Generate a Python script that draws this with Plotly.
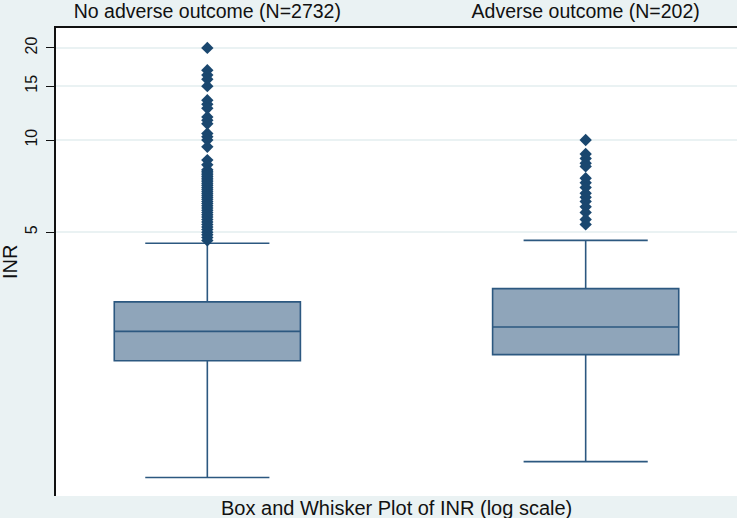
import plotly.graph_objects as go

# ---- data ----
groups = ["No adverse outcome (N=2732)", "Adverse outcome (N=202)"]
lower_whisker = [0.79, 0.89]
q1_vals = [1.90, 1.99]
median_vals = [2.37, 2.45]
q3_vals = [2.96, 3.27]
upper_whisker = [4.6, 4.7]

outliers_no_adverse = [20.0, 16.9, 16.3, 15.8, 15.0, 13.5, 13.1, 12.7, 11.9, 11.6, 11.3,
                       10.5, 10.25, 10.0, 9.5, 8.6, 8.3,
                       8.0, 7.9, 7.8, 7.7, 7.6, 7.5, 7.4, 7.3, 7.2, 7.1, 7.0, 6.9, 6.8,
                       6.7, 6.6, 6.5, 6.4, 6.3, 6.2, 6.1, 6.0, 5.9, 5.8, 5.7, 5.6, 5.5,
                       5.4, 5.3, 5.2, 5.1, 5.0, 4.9, 4.8, 4.7]
outliers_adverse = [10.0, 9.0, 8.7, 8.4, 8.2, 7.5, 7.25, 7.0, 6.7, 6.5, 6.3, 6.05,
                    5.8, 5.5, 5.3]

y_ticks = [5, 10, 15, 20]
y_tick_labels = ["5", "10", "15", "20"]

navy = "#1a476f"
line_col = "#2c5880"
fill_col = "#8fa5ba"
bg = "#eaf2f3"

fig = go.Figure()
fig.add_trace(go.Box(
    x=groups,
    q1=q1_vals, median=median_vals, q3=q3_vals,
    lowerfence=lower_whisker, upperfence=upper_whisker,
    boxpoints=False,
    fillcolor=fill_col,
    line=dict(color=line_col, width=1.6),
    width=0.492,
    whiskerwidth=0.667,
    showlegend=False,
    hoverinfo="skip",
))
fig.add_trace(go.Scatter(
    x=[groups[0]] * len(outliers_no_adverse) + [groups[1]] * len(outliers_adverse),
    y=outliers_no_adverse + outliers_adverse,
    mode="markers",
    marker=dict(symbol="diamond", size=9.5, color=navy, line=dict(width=0)),
    showlegend=False,
))

fig.update_layout(
    width=737, height=518,
    margin=dict(l=56, r=0, t=28, b=22),
    paper_bgcolor=bg,
    plot_bgcolor="white",
    font=dict(family="Liberation Sans, Arial, sans-serif", color="#111111", size=20),
    xaxis=dict(
        type="category",
        categoryorder="array", categoryarray=groups,
        range=[-0.4, 1.4],
        side="top",
        automargin=False,
        showline=True, linecolor="#111111", linewidth=2,
        showgrid=False, zeroline=False, ticks="",
        tickfont=dict(size=19.5, color="#111111"),
        ticklabelstandoff=0,
    ),
    yaxis=dict(
        type="log",
        range=[-0.163, 1.366],
        automargin=False,
        tickvals=y_ticks, ticktext=y_tick_labels,
        tickangle=-90,
        tickfont=dict(size=16, color="#111111"),
        ticks="outside", ticklen=8, tickcolor="#111111", tickwidth=1,
        showline=True, linecolor="#111111", linewidth=2,
        showgrid=True, gridcolor=bg, gridwidth=1.5,
        zeroline=False,
        ticklabelstandoff=3,
    ),
    annotations=[
        dict(text="INR", xref="paper", yref="paper", x=-0.0675, y=0.5,
             textangle=-90, showarrow=False, font=dict(size=20, color="#111111"),
             xanchor="center", yanchor="middle"),
        dict(text="Box and Whisker Plot of INR (log scale)", xref="paper", yref="paper",
             x=0.5, y=0, yshift=-12, showarrow=False,
             font=dict(size=20, color="#111111"), xanchor="center", yanchor="middle"),
    ],
)

fig.write_html(
    "out.html",
    config={"displayModeBar": False},
    post_script="document.body.style.margin='0';document.body.style.padding='0';",
)
